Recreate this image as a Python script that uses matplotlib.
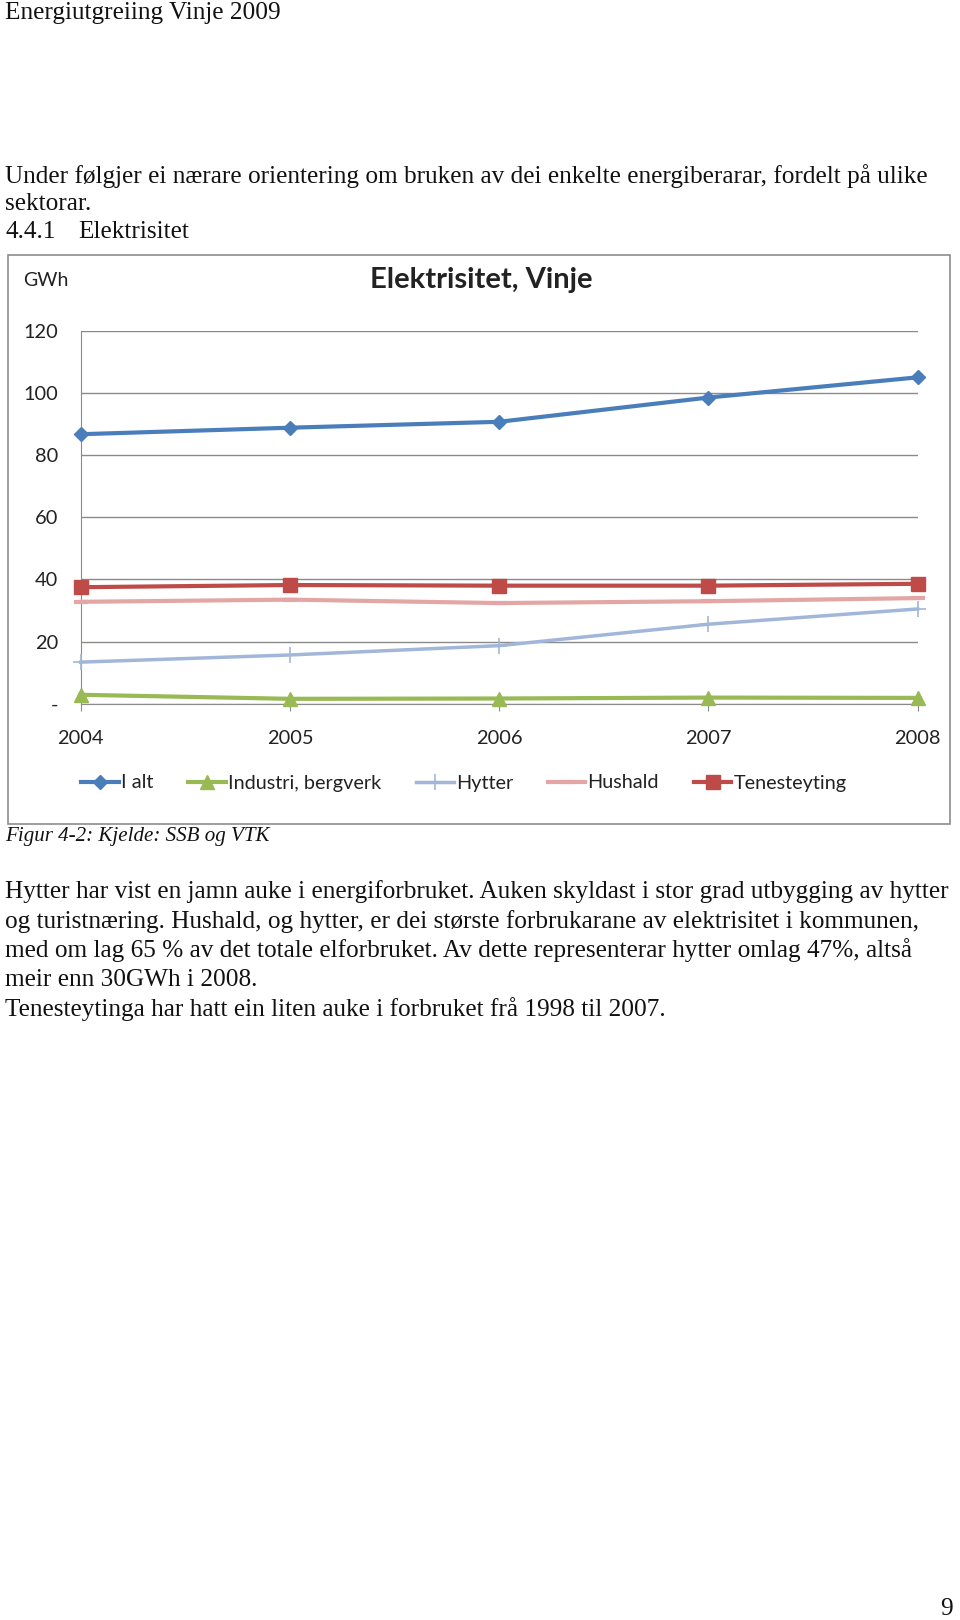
import matplotlib
matplotlib.use("Agg")
import matplotlib.pyplot as plt
from matplotlib.patches import Rectangle
from matplotlib.ticker import FuncFormatter

# data (GWh)
years = [2004, 2005, 2006, 2007, 2008]
i_alt = [86.7, 88.8, 90.7, 98.5, 105.0]
industri = [2.9, 1.6, 1.7, 2.0, 1.9]
hytter = [13.4, 15.7, 18.7, 25.6, 30.5]
hushald = [32.8, 33.5, 32.4, 33.0, 34.0]
tenesteyting = [37.5, 38.2, 38.0, 38.0, 38.6]
y_ticks = [0, 20, 40, 60, 80, 100, 120]

W, H = 960, 1620
fig = plt.figure(figsize=(W / 100, H / 100), dpi=100)
fig.patch.set_facecolor("white")

serif = "Liberation Serif"
sans = "Lato"


def ptext(x, y, s, **kw):
    # x, y in pixels from top-left of the page
    fig.text(x / W, 1 - y / H, s, **kw)


# page text
body = dict(family=serif, fontsize=18.2, va="center", ha="left", color="#111111")
ptext(5, 13, "Energiutgreiing Vinje 2009", **body)
ptext(5, 176, "Under følgjer ei nærare orientering om bruken av dei enkelte energiberarar, fordelt på ulike", **body)
ptext(5, 204, "sektorar.", **body)
ptext(5, 232, "4.4.1", **body)
ptext(78, 232, "Elektrisitet", **body)
ptext(5, 836, "Figur 4-2: Kjelde: SSB og VTK", family=serif, style="italic",
      fontsize=15.1, va="center", ha="left", color="#111111")
para = [
    "Hytter har vist en jamn auke i energiforbruket. Auken skyldast i stor grad utbygging av hytter",
    "og turistnæring. Hushald, og hytter, er dei største forbrukarane av elektrisitet i kommunen,",
    "med om lag 65 % av det totale elforbruket. Av dette representerar hytter omlag 47%, altså",
    "meir enn 30GWh i 2008.",
    "Tenesteytinga har hatt ein liten auke i forbruket frå 1998 til 2007.",
]
for k, line in enumerate(para):
    ptext(5, 892 + k * 29.2, line, **body)
ptext(953, 1609, "9", family=serif, fontsize=18.2, va="center", ha="right", color="#111111")

# chart frame
fig.patches.append(Rectangle((8.3 / W, 1 - 823.6 / H), (949.7 - 8.3) / W, (823.6 - 255) / H,
                             transform=fig.transFigure, fill=False, edgecolor="#8c8c8c", lw=1.2))
ptext(481, 280, "Elektrisitet, Vinje", family=sans, fontweight="bold", fontsize=21,
      ha="center", va="center", color="#222222")
ptext(23, 281, "GWh", family=sans, fontsize=14, ha="left", va="center", color="#222222")

ax = fig.add_axes([80.6 / W, 1 - 703.8 / H, (917.6 - 80.6) / W, (703.8 - 330.7) / H])
ax.set_xlim(years[0], years[-1])
ax.set_ylim(0, 120)
ax.set_yticks(y_ticks)
ax.yaxis.set_major_formatter(FuncFormatter(lambda v, p: "-" if v == 0 else f"{v:.0f}"))
ax.set_xticks(years)
ax.grid(axis="y", color="#8a8a8a", lw=1.0)
ax.set_axisbelow(True)
for s in ["top", "right"]:
    ax.spines[s].set_visible(False)
for s in ["left", "bottom"]:
    ax.spines[s].set_color("#8a8a8a")
ax.tick_params(axis="y", length=0, pad=16, labelsize=14.4, labelcolor="#222222")
ax.tick_params(axis="x", length=5, color="#8a8a8a", pad=14, labelsize=14.4, labelcolor="#222222")
for lab in ax.get_xticklabels() + ax.get_yticklabels():
    lab.set_family(sans)

ax.plot(years, i_alt, color="#4a7ebb", lw=3, marker="D", ms=7.5, label="I alt", clip_on=False, zorder=5)
ax.plot(years, industri, color="#98b954", lw=3, marker="^", ms=10, label="Industri, bergverk", clip_on=False, zorder=5)
ax.plot(years, hytter, color="#a1b6d8", lw=2.5, marker="+", ms=11, mew=1.2, label="Hytter", clip_on=False, zorder=4)
ax.plot(years, hushald, color="#e3a6a5", lw=3, marker="_", ms=10, mew=3, label="Hushald", clip_on=False, zorder=4)
ax.plot(years, tenesteyting, color="#be4b48", lw=3, marker="s", ms=10.5, label="Tenesteyting", clip_on=False, zorder=5)

leg = ax.legend(loc="center", bbox_to_anchor=(0.458, -(783 - 703.8) / (703.8 - 330.7)), ncol=5,
                frameon=False, handlelength=1.9, handletextpad=0.1, columnspacing=1.75,
                prop={"family": sans, "size": 14.3})
for t in leg.get_texts():
    t.set_color("#222222")

fig.savefig("out.png", dpi=100, facecolor="white")
